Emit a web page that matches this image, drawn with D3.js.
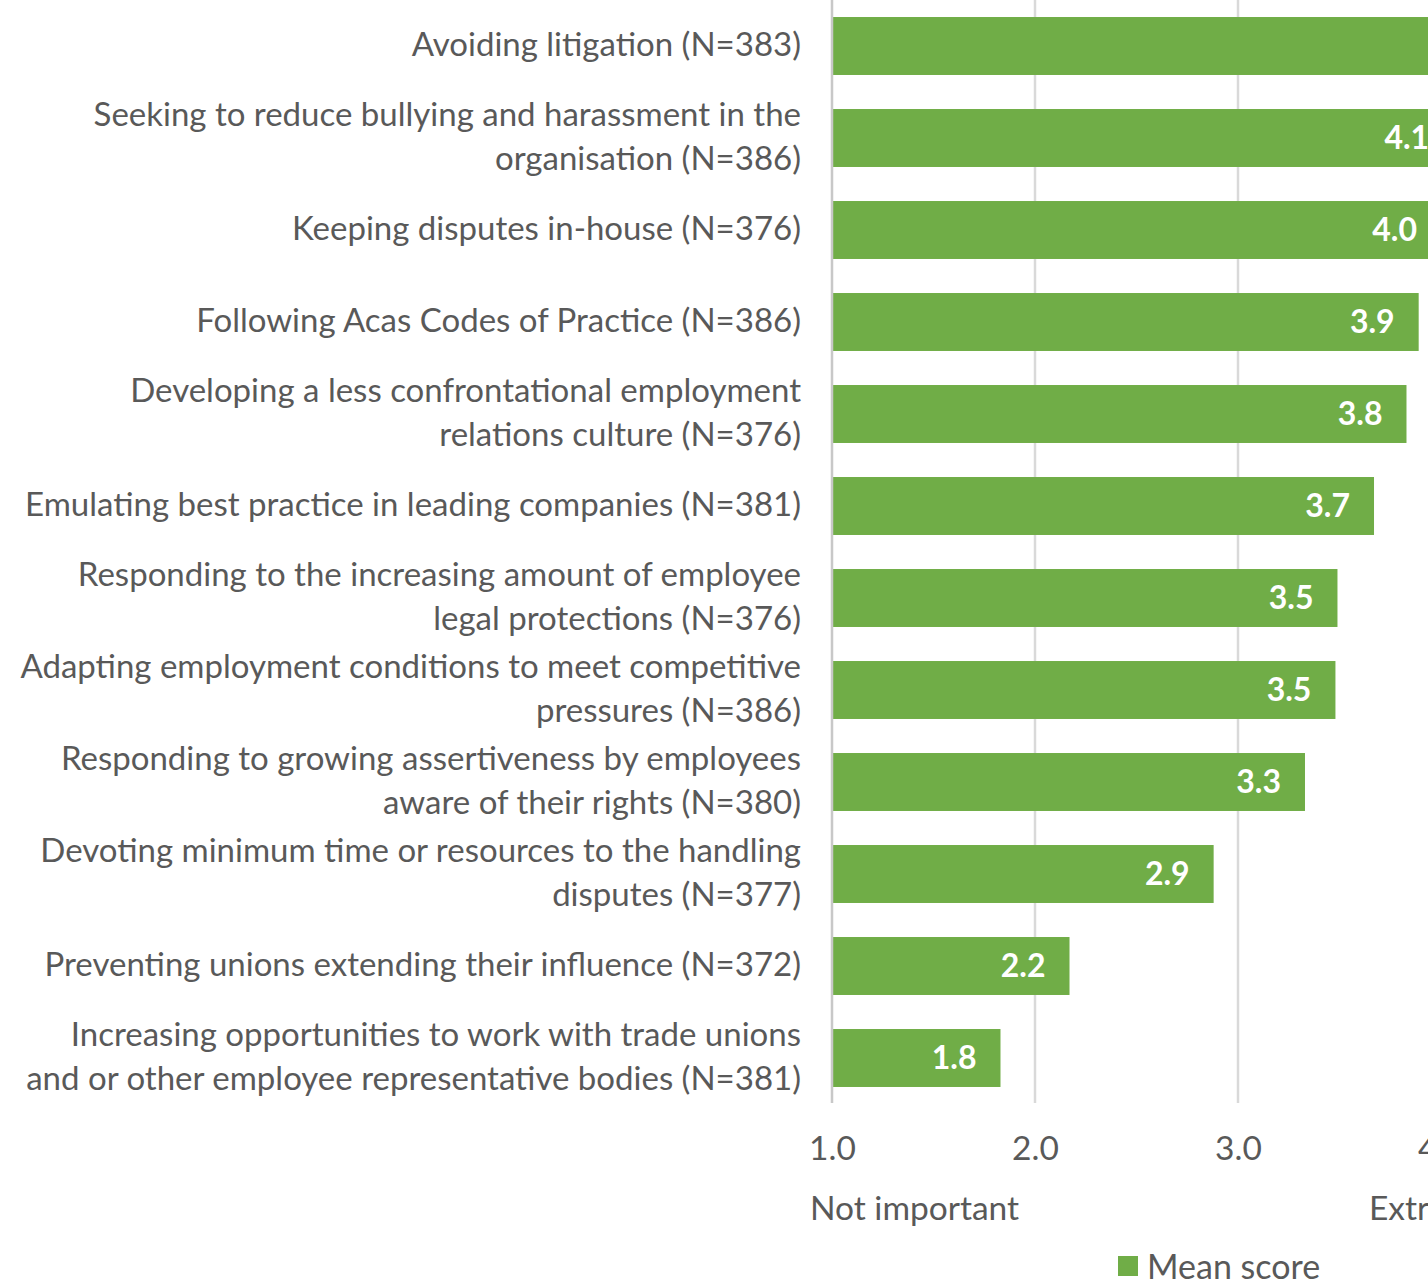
<!DOCTYPE html>
<html>
<head>
<meta charset="utf-8">
<script src="https://cdn.jsdelivr.net/npm/d3@7"></script>
<style>
  html, body { margin: 0; padding: 0; background: #fff; overflow: hidden; }
  svg { display: block; }
</style>
</head>
<body>
<svg id="chart" width="1428" height="1280"></svg>
<script>
// Reasons for conflict-management practice, mean importance score (1–5)
const categories = [
  "Avoiding litigation (N=383)",
  "Seeking to reduce bullying and harassment in the\norganisation (N=386)",
  "Keeping disputes in-house (N=376)",
  "Following Acas Codes of Practice (N=386)",
  "Developing a less confrontational employment\nrelations culture (N=376)",
  "Emulating best practice in leading companies (N=381)",
  "Responding to the increasing amount of employee\nlegal protections (N=376)",
  "Adapting employment conditions to meet competitive\npressures (N=386)",
  "Responding to growing assertiveness by employees\naware of their rights (N=380)",
  "Devoting minimum time or resources to the handling\ndisputes (N=377)",
  "Preventing unions extending their influence (N=372)",
  "Increasing opportunities to work with trade unions\nand or other employee representative bodies (N=381)"
];
const meanScores = [4.30, 4.06, 4.00, 3.89, 3.83, 3.67, 3.49, 3.48, 3.33, 2.88, 2.17, 1.83];
const tickValues = [1, 2, 3, 4, 5];
const scaleEnds = ["Not important", "Extremely important"];
const seriesName = "Mean score";

const green = "#70AD47";
const textGrey = "#595959";
const font = "Lato, 'Open Sans', sans-serif";

const svg = d3.select("#chart");

const x = d3.scaleLinear().domain([1, 5]).range([832, 1644]);
const y = d3.scaleBand()
  .domain(d3.range(categories.length))
  .range([0, 1104])
  .paddingInner(0.37)
  .paddingOuter(0.185);

const plotTop = 0, plotBottom = 1103;

// vertical gridlines
svg.append("g")
  .selectAll("line")
  .data(tickValues.filter(t => t > 1))
  .join("line")
  .attr("x1", d => x(d)).attr("x2", d => x(d))
  .attr("y1", plotTop).attr("y2", plotBottom)
  .attr("stroke", "#d9d9d9")
  .attr("stroke-width", 2.5);

// bars
svg.append("g")
  .selectAll("rect")
  .data(meanScores)
  .join("rect")
  .attr("x", x(1))
  .attr("y", (d, i) => y(i))
  .attr("width", d => x(d) - x(1))
  .attr("height", y.bandwidth())
  .attr("fill", green);

// value axis baseline
svg.append("line")
  .attr("x1", x(1)).attr("x2", x(1))
  .attr("y1", plotTop).attr("y2", plotBottom)
  .attr("stroke", "#c8c8c8")
  .attr("stroke-width", 2.5);

// data labels inside bar ends
svg.append("g")
  .selectAll("text")
  .data(meanScores)
  .join("text")
  .attr("x", d => x(d) - 24)
  .attr("y", (d, i) => y(i) + y.bandwidth() / 2 - 2)
  .attr("text-anchor", "end")
  .attr("dominant-baseline", "central")
  .attr("fill", "#fff")
  .attr("font-family", font)
  .attr("font-weight", "bold")
  .attr("font-size", 32)
  .text(d => d3.format(".1f")(d));

// category labels, right aligned, wrapped
const lineGap = 44;
const catG = svg.append("g");
categories.forEach((c, i) => {
  const lines = c.split("\n");
  const cy = y(i) + y.bandwidth() / 2 - 3;
  const t = catG.append("text")
    .attr("text-anchor", "end")
    .attr("fill", textGrey)
    .attr("font-family", font)
    .attr("font-size", 33);
  lines.forEach((ln, k) => {
    t.append("tspan")
      .attr("x", 801)
      .attr("y", cy + (k - (lines.length - 1) / 2) * lineGap)
      .attr("dominant-baseline", "central")
      .text(ln);
  });
});

// bottom axis tick labels
const axis = d3.axisBottom(x)
  .tickValues(tickValues)
  .tickFormat(d3.format(".1f"))
  .tickSize(0)
  .tickPadding(0);
const axG = svg.append("g")
  .attr("transform", `translate(0, 1147)`)
  .call(axis);
axG.select(".domain").remove();
axG.selectAll("text")
  .attr("y", 0)
  .attr("dy", null)
  .attr("dominant-baseline", "central")
  .attr("fill", textGrey)
  .attr("font-family", font)
  .attr("font-size", 33.5);

// scale end descriptors
svg.append("text")
  .attr("x", x(1) - 22).attr("y", 1207)
  .attr("dominant-baseline", "central")
  .attr("fill", textGrey)
  .attr("font-family", font)
  .attr("font-size", 33.5)
  .text(scaleEnds[0]);
svg.append("text")
  .attr("x", x(5) + 25).attr("y", 1207)
  .attr("text-anchor", "end")
  .attr("dominant-baseline", "central")
  .attr("fill", textGrey)
  .attr("font-family", font)
  .attr("font-size", 33.5)
  .text(scaleEnds[1]);

// legend
const leg = svg.append("g").attr("transform", "translate(1118, 1256)");
leg.append("rect").attr("width", 20).attr("height", 20).attr("fill", green);
leg.append("text")
  .attr("x", 29).attr("y", 9)
  .attr("dominant-baseline", "central")
  .attr("fill", textGrey)
  .attr("font-family", font)
  .attr("font-size", 34)
  .text(seriesName);
</script>
</body>
</html>
